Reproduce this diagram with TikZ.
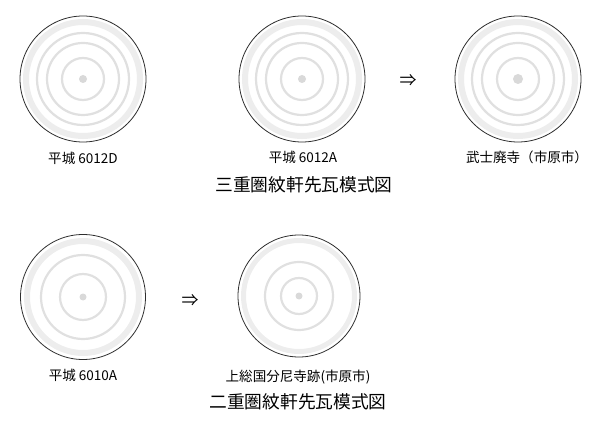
\documentclass[tikz,border=0pt]{standalone}
\usepackage{fontspec}
\setmainfont{Noto Sans CJK JP}
\usepackage{xcolor}
\definecolor{rim}{HTML}{2E2E2E}
\definecolor{band}{HTML}{EDEDED}
\definecolor{ringc}{HTML}{E0E0E0}
\definecolor{bossc}{HTML}{D9D9D9}
\usetikzlibrary{positioning}

\tikzset{
	tile/.style={circle, draw=rim, line width=0.8bp, minimum size=#1, inner sep=0pt},
	caption/.style={font=\fontsize{13.6}{16}\selectfont, inner sep=0pt},
	heading/.style={font=\fontsize{17.8}{20}\selectfont, inner sep=0pt},
	goesto/.style={font=\fontsize{17}{18}\selectfont, inner sep=0pt}
}

\begin{document}
\begin{tikzpicture}[x=1bp,y=-1bp]
	\useasboundingbox (0,0) rectangle (600,436);
	% three rings
	\foreach \nm/\cx/\cy/\bs in {hD/83/79/4, hA/302/79/4, bu/518/79/5}
	{
	\fill[white] (\cx,\cy) circle (63bp);
	\draw[band, line width=6bp] (\cx,\cy) circle (57bp);
	\foreach \r in {46, 36, 21}
	\draw[ringc, line width=2.2bp] (\cx,\cy) circle (\r bp);
	\fill[bossc] (\cx,\cy) circle (\bs bp);
	\node[tile=126bp] (\nm) at (\cx,\cy) {};
	}
	% two rings
	\draw[band, line width=6bp] (83,297) circle (56bp);
	\foreach \r in {42, 23}
	\draw[ringc, line width=2.2bp] (83,297) circle (\r bp);
	\fill[bossc] (83,297) circle (3.5bp);
	\node[tile=125bp] (hE) at (83,297) {};
	\draw[band, line width=5bp] (299,296) circle (55.5bp);
	\foreach \r in {34, 18}
	\draw[ringc, line width=2.2bp] (299,296) circle (\r bp);
	\fill[bossc] (299,296) circle (3.5bp);
	\node[tile=122bp] (ks) at (299,296) {};
	%labels
	\node[caption] (lD) at (83,158) {平城 6012D};
	\node[caption] (lA) at (303,157) {平城 6012A};
	\node[caption] (lB) at (527,157) {武士廃寺（市原市）};
	\node[heading] (t3) at (304,185) {三重圏紋軒先瓦模式図};
	\node[caption] (lE) at (83,375) {平城 6010A};
	\node[caption] (lK) at (298,377) {上総国分尼寺跡(市原市)};
	\node[heading] (t2) at (298,402) {二重圏紋軒先瓦模式図};
	\node[goesto] (a1) at (408,81) {⇒};
	\node[goesto] (a2) at (190,301) {⇒};
\end{tikzpicture}
\end{document}
